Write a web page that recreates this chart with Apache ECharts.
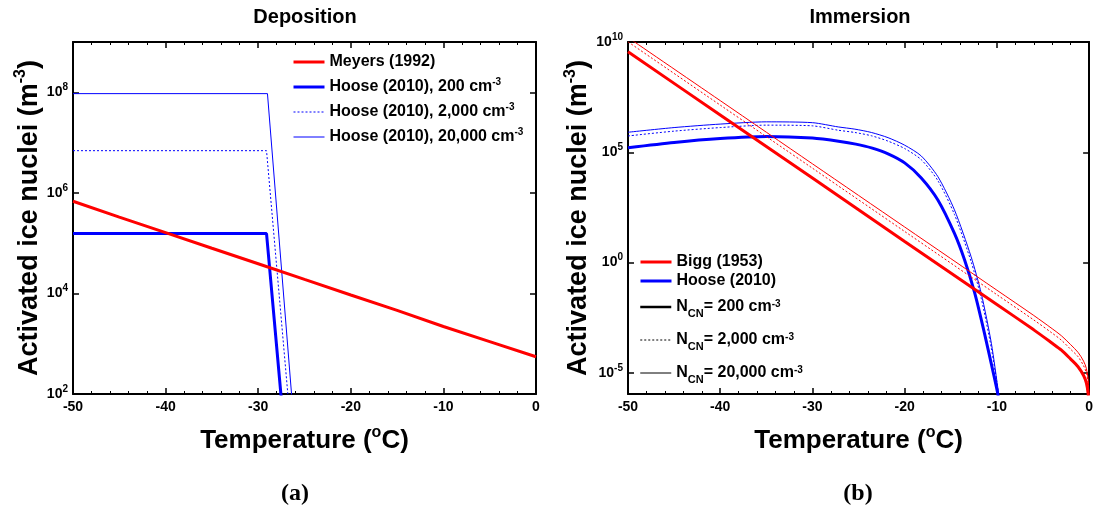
<!DOCTYPE html>
<html>
<head>
<meta charset="UTF-8">
<script src="https://cdn.jsdelivr.net/npm/echarts@6/dist/echarts.min.js"></script>
</head>
<body style="margin:0;background:#fff;">
<div id="chart_div" style="width:1096px;height:512px;"></div>
<script type="text/javascript">
// ---- data ----
// (a) Deposition
var meyersT = [-50, -45, -40, -35, -30, -25, -20, -15, -10, -5, 0];
var meyersN = [6.8e5, 3.3e5, 1.62e5, 7.9e4, 3.9e4, 1.9e4, 9.3e3, 4.6e3, 2.2e3, 1.1e3, 550];
var dep200T = [-50, -29.1, -27.55, -27.2];
var dep200N = [1.55e5, 1.55e5, 100, 25];
var dep2000T = [-50, -29.1, -26.8, -26.6];
var dep2000N = [6.9e6, 6.9e6, 100, 38];
var dep20000T = [-50, -29.0, -26.4, -26.2];
var dep20000N = [9.4e7, 9.4e7, 100, 35];

// (b) Immersion
var biggT = [-50, -40, -30, -20, -10, -6, -4, -3, -2, -1.2, -0.6, -0.3, -0.1, -0.02];
var bigg200 = [3.6e9, 4.9e6, 6.8e3, 9.1, 1.26e-2, 8.9e-4, 2.2e-4, 1.07e-4, 4.2e-5, 1.9e-5, 7.6e-6, 3.5e-6, 1.1e-6, 2e-7];
var bigg2000 = [1.02e10, 1.38e7, 1.9e4, 25.7, 3.5e-2, 2.5e-3, 6.3e-4, 3.0e-4, 1.17e-4, 5.4e-5, 2.1e-5, 1e-5, 3.1e-6, 5.6e-7];
var bigg20000 = [1.6e10, 2.2e7, 3.0e4, 41, 5.6e-2, 4.0e-3, 1.0e-3, 4.8e-4, 1.9e-4, 8.5e-5, 3.4e-5, 1.6e-5, 4.9e-6, 8.9e-7];
var imm200T = [-50, -45, -40, -35, -30, -27, -25.3, -23.6, -21.8, -20, -18.2, -16.4, -14.6, -13.5, -12.4, -11.35, -10.3, -9.9, -9.7];
var imm200N = [1.62e5, 2.8e5, 4.2e5, 5.2e5, 4.4e5, 3.1e5, 2.34e5, 1.58e5, 8.5e4, 3.3e4, 6.9e3, 690, 21, 1.3, 4.1e-2, 6.3e-4, 6.8e-6, 1.1e-6, 3e-7];
var immT = [-50, -45, -40, -35, -30, -27.2, -25.4, -23.6, -21.8, -20, -18.2, -16.4, -14.6, -12.8, -11.7, -10.6, -9.8, -9.6];
var imm2000N = [5.5e5, 9.1e5, 1.32e6, 1.7e6, 1.58e6, 1.0e6, 7.9e5, 5.6e5, 3.2e5, 1.48e5, 4.6e4, 5.2e3, 151, 1.12, 2.4e-2, 1.3e-4, 1e-6, 2.5e-7];
var imm20000N = [8.1e5, 1.32e6, 1.9e6, 2.4e6, 2.2e6, 1.41e6, 1.12e6, 7.9e5, 4.6e5, 2.1e5, 6.8e4, 7.9e3, 245, 1.86, 4.1e-2, 2.2e-4, 1.1e-6, 3.2e-7];

var xTicks = [-50, -40, -30, -20, -10, 0];
var depYTicks = [1e2, 1e4, 1e6, 1e8];
var immYTicks = [1e-5, 1, 1e5, 1e10];

// ---- helpers ----
var FONT = 'Liberation Sans, Arial, sans-serif';
var RED = '#ff0000', BLUE = '#0000ff';

function zip(xs, ys) {
	return xs.map(function(x, i) { return [x, ys[i]]; });
}

// superscript rich styles (base size, sup size)
function supRich(base, sup) {
	return {
		b: {fontSize: base, lineHeight: base, fontWeight: 'bold', fontFamily: FONT, color: '#000', verticalAlign: 'bottom'},
		s: {fontSize: sup, lineHeight: sup, fontWeight: 'bold', fontFamily: FONT, color: '#000', verticalAlign: 'bottom', padding: [0, 0, Math.round(base * 0.5), 0]}
	};
}

function powLabel(v) {
	var e = Math.round(Math.log10(v));
	return '{b|10}{s|' + e + '}';
}

function xAxisPair(gi) {
	var base = {
		type: 'value', gridIndex: gi, min: -50, max: 0, interval: 10,
		axisLine: {show: true, onZero: false, lineStyle: {color: '#000', width: 2}},
		axisTick: {show: true, inside: true, length: 6, lineStyle: {color: '#000', width: 1.5}},
		minorTick: {show: true, splitNumber: 5, length: 3, lineStyle: {color: '#000', width: 1}},
		splitLine: {show: false}
	};
	var bottom = Object.assign({}, base, {
		position: 'bottom',
		axisLabel: {color: '#000', fontSize: 14, fontWeight: 'bold', fontFamily: FONT, margin: 6},
		name: '{b|Temperature (}{s|o}{b|C)}',
		nameLocation: 'middle', nameGap: 34,
		nameTextStyle: {rich: supRich(26, 16)}
	});
	var top = Object.assign({}, base, {position: 'top', axisLabel: {show: false}});
	return [bottom, top];
}

function yAxisPair(gi, min, max, ticks, gap) {
	var base = {
		type: 'log', logBase: 10, gridIndex: gi, min: min, max: max,
		axisLine: {show: true, onZero: false, lineStyle: {color: '#000', width: 2}},
		axisTick: {show: true, inside: true, length: 6, customValues: ticks, lineStyle: {color: '#000', width: 1.5}},
		minorTick: {show: false},
		splitLine: {show: false}
	};
	var left = Object.assign({}, base, {
		position: 'left',
		axisLabel: {customValues: ticks, formatter: powLabel, margin: 5, rich: supRich(14, 10)},
		name: '{b|Activated ice nuclei (m}{s|-3}{b|)}',
		nameLocation: 'middle', nameGap: gap,
		nameTextStyle: {rich: supRich(27, 16)}
	});
	var right = Object.assign({}, base, {position: 'right', axisLabel: {show: false}});
	return [left, right];
}

function lineSeries(name, xi, yi, data, color, width, type, smooth) {
	return {
		name: name, type: 'line', xAxisIndex: xi, yAxisIndex: yi,
		data: data, symbol: 'none', smooth: smooth || false, color: color,
		lineStyle: {color: color, width: width, type: type || 'solid'},
		emphasis: {disabled: true}, animation: false, clip: true
	};
}

var legendNames = {
	'Meyers (1992)': '{b|Meyers (1992)}{s| }',
	'Hoose (2010), 200 cm-3': '{b|Hoose (2010), 200 cm}{s|-3}',
	'Hoose (2010), 2,000 cm-3': '{b|Hoose (2010), 2,000 cm}{s|-3}',
	'Hoose (2010), 20,000 cm-3': '{b|Hoose (2010), 20,000 cm}{s|-3}',
	'Bigg (1953)': '{b|Bigg (1953)}',
	'Hoose (2010)': '{b|Hoose (2010)}',
	'NCN200': '{b|N}{c|CN}{b|= 200 cm}{s|-3}',
	'NCN2000': '{b|N}{c|CN}{b|= 2,000 cm}{s|-3}',
	'NCN20000': '{b|N}{c|CN}{b|= 20,000 cm}{s|-3}'
};

var legRich = supRich(16, 10);
var ncnRich = {
	b: {fontSize: 16, lineHeight: 16, fontWeight: 'bold', fontFamily: FONT, color: '#000', verticalAlign: 'top'},
	s: {fontSize: 10, lineHeight: 10, fontWeight: 'bold', fontFamily: FONT, color: '#000', verticalAlign: 'top'},
	c: {fontSize: 11, lineHeight: 11, fontWeight: 'bold', fontFamily: FONT, color: '#000', verticalAlign: 'top', padding: [9, 0, 0, 0]}
};

function fmtLegend(n) { return legendNames[n] || n; }

// legend entry: name, line width, dashed?
function item(name, width, dashed) {
	return {name: name, lineStyle: {width: width, type: dashed ? [2, 2] : 'solid'}};
}

function legend(left, top, gap, names, rich) {
	return {
		orient: 'vertical', left: left, top: top, padding: 0,
		itemWidth: 31, itemHeight: 10, itemGap: gap,
		selectedMode: false, data: names,
		itemStyle: {opacity: 0},
		formatter: fmtLegend, textStyle: {rich: rich}
	};
}

var myChart = echarts.init(document.getElementById('chart_div'));

var xa = xAxisPair(0).concat(xAxisPair(1));
var ya = yAxisPair(0, 1e2, 1e9, depYTicks, 29).concat(yAxisPair(1, 1.1e-6, 1e10, immYTicks, 31));

var option = {
	backgroundColor: '#fff',
	animation: false,
	grid: [
		{left: 73, right: 560, top: 42, bottom: 118},
		{left: 628, right: 4, top: 42, bottom: 118}
	],
	xAxis: xa,
	yAxis: ya,
	legend: [
		legend(292, 52, 7, [item('Meyers (1992)', 3), item('Hoose (2010), 200 cm-3', 3),
			item('Hoose (2010), 2,000 cm-3', 1, true), item('Hoose (2010), 20,000 cm-3', 1)], legRich),
		legend(639, 254, 3, [item('Bigg (1953)', 3), item('Hoose (2010)', 3)], legRich),
		legend(639, 299, 13, [item('NCN200', 2.5), item('NCN2000', 1, true), item('NCN20000', 1)], ncnRich)
	],
	graphic: [
		{type: 'text', x: 305, y: 17, style: {text: 'Deposition', font: 'bold 20px ' + FONT, fill: '#000', align: 'center', verticalAlign: 'middle'}},
		{type: 'text', x: 860, y: 17, style: {text: 'Immersion', font: 'bold 20px ' + FONT, fill: '#000', align: 'center', verticalAlign: 'middle'}},
		{type: 'text', x: 295, y: 494, style: {text: '(a)', font: 'bold 24px Liberation Serif, Times New Roman, serif', fill: '#000', align: 'center', verticalAlign: 'middle'}},
		{type: 'text', x: 858, y: 494, style: {text: '(b)', font: 'bold 24px Liberation Serif, Times New Roman, serif', fill: '#000', align: 'center', verticalAlign: 'middle'}}
	],
	series: [
		// deposition
		lineSeries('Hoose (2010), 200 cm-3', 0, 0, zip(dep200T, dep200N), BLUE, 3),
		lineSeries('Hoose (2010), 2,000 cm-3', 0, 0, zip(dep2000T, dep2000N), BLUE, 1, [2, 2]),
		lineSeries('Hoose (2010), 20,000 cm-3', 0, 0, zip(dep20000T, dep20000N), BLUE, 1),
		lineSeries('Meyers (1992)', 0, 0, zip(meyersT, meyersN), RED, 3),
		// immersion
		lineSeries('Hoose (2010)', 2, 2, zip(imm200T, imm200N), BLUE, 3, 'solid', 0.25),
		lineSeries('Hoose 2000', 2, 2, zip(immT, imm2000N), BLUE, 1, [2, 2], 0.25),
		lineSeries('Hoose 20000', 2, 2, zip(immT, imm20000N), BLUE, 1, 'solid', 0.25),
		lineSeries('Bigg (1953)', 2, 2, zip(biggT, bigg200), RED, 3, 'solid', 0.3),
		lineSeries('Bigg 2000', 2, 2, zip(biggT, bigg2000), RED, 1, [2, 2], 0.3),
		lineSeries('Bigg 20000', 2, 2, zip(biggT, bigg20000), RED, 1, 'solid', 0.3),
		// legend-only entries
		lineSeries('NCN200', 2, 2, [], '#000', 3),
		lineSeries('NCN2000', 2, 2, [], '#000', 1, [2, 2]),
		lineSeries('NCN20000', 2, 2, [], '#000', 1)
	]
};

myChart.setOption(option, true);
</script>
</body>
</html>
